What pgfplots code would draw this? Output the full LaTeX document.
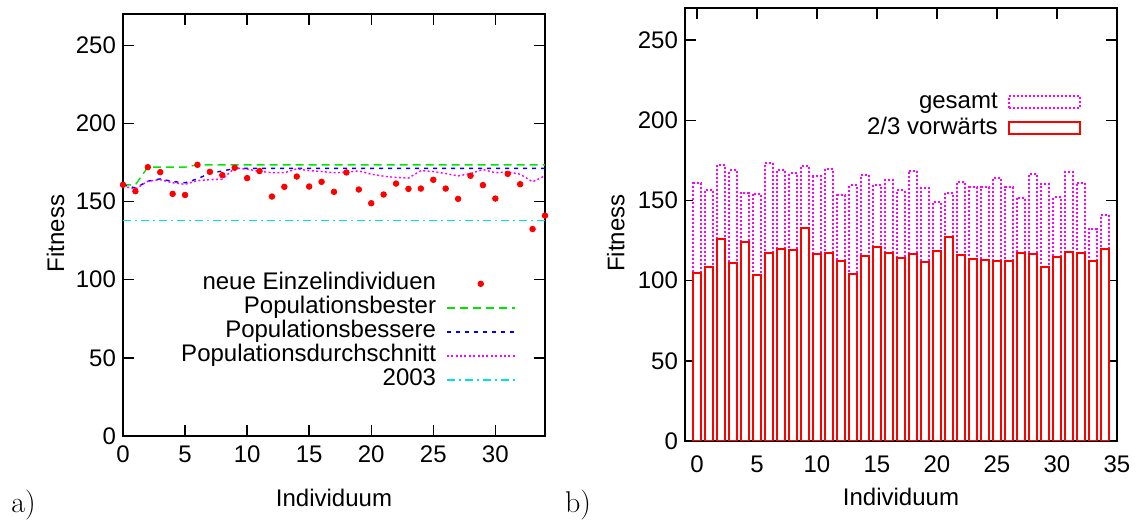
\documentclass[border=0pt]{standalone}
\usepackage{fontspec}
\newfontfamily\arial{Liberation Sans}
\usepackage{pgfplots}
\pgfplotsset{compat=1.18}
\definecolor{gpred}{RGB}{255,0,0}
\definecolor{gpgreen}{RGB}{0,230,0}
\definecolor{gpblue}{RGB}{0,0,255}
\definecolor{gpmag}{RGB}{255,0,255}
\definecolor{gpcyan}{RGB}{0,225,225}

% dots = neue Einzelindividuen / gesamt
\pgfplotstableread{
x  neu    best   besser  mittel  vorw
0  160.7  160.7  160.7   160.0   105.0
1  156.6  160.7  158.7   158.0   108.5
2  172.0  172.0  163.0   163.0   125.7
3  168.8  172.0  164.5   164.0   111.0
4  154.9  172.0  162.8   162.0   123.8
5  154.2  172.0  162.0   161.0   103.4
6  173.5  173.5  164.5   163.4   117.5
7  169.0  173.5  168.2   164.0   120.0
8  166.9  173.5  169.5   164.3   119.4
9  171.6  173.5  171.2   171.5   133.0
10 165.0  173.5  171.2   170.7   116.8
11 169.5  173.5  171.2   169.4   117.5
12 153.2  173.5  171.2   168.4   112.3
13 159.4  173.5  171.2   168.4   104.4
14 166.0  173.5  171.2   170.9   115.6
15 159.6  173.5  171.2   169.8   121.0
16 162.6  173.5  171.2   169.2   117.2
17 156.2  173.5  171.2   168.4   113.8
18 168.6  173.5  171.2   168.8   116.6
19 157.7  173.5  171.2   169.6   111.9
20 148.9  173.5  171.2   167.5   118.5
21 154.5  173.5  171.2   166.2   127.2
22 161.5  173.5  171.2   165.4   116.2
23 158.1  173.5  171.2   165.0   113.4
24 158.3  173.5  171.2   169.8   112.7
25 163.9  173.5  171.2   169.2   112.1
26 158.3  173.5  171.2   167.9   112.3
27 151.7  173.5  171.2   166.4   117.5
28 166.5  173.5  171.2   167.9   116.8
29 160.5  173.5  171.2   170.5   108.8
30 151.9  173.5  171.2   168.4   114.5
31 167.7  173.5  171.2   169.0   118.1
32 161.1  173.5  171.2   167.5   117.5
33 132.4  173.5  171.2   162.6   112.3
34 141.0  173.5  171.2   166.5   120.0
}\fit

\pgfplotsset{
  gp/.style={
    scale only axis,
    axis line style={line width=0.7pt},
    tick align=inside, major tick length=5.5pt,
    tick style={line width=0.7pt, black},
    font=\arial\fontsize{12}{12}\selectfont,
    /pgf/number format/assume math mode=true,
    ymin=0, ymax=270, ytick={0,50,...,250},
    ylabel=Fitness, xlabel=Individuum,
    ylabel style={at={(axis description cs:-0.16,0.48)}, anchor=center},
    legend plot pos=right, legend cell align=right,
    legend style={draw=none, fill=none, inner sep=0pt, column sep=4.5pt,
      nodes={inner sep=0.5pt, text height=8.5pt, text depth=2.5pt}},
  },
  linelegend/.style={legend image code/.code={\draw[##1] (0pt,0pt) -- (34pt,0pt);}},
  dotlegend/.style={legend image code/.code={\draw[##1] plot coordinates {(17pt,0pt)};}},
  barlegend/.style={legend image code/.code={\draw[##1] (0pt,-3pt) rectangle (35.5pt,3pt);}},
}

\begin{document}
\begin{tikzpicture}
\useasboundingbox (0,0) rectangle (571pt,261pt);

\begin{axis}[gp, at={(61.5pt,43pt)}, anchor=south west,
  width=211pt, height=211pt,
  xmin=0, xmax=34, xtick={0,5,...,30},
  xticklabel style={yshift=-1.5pt},
  xlabel style={at={(axis description cs:0.5,0)}, anchor=center, yshift=-31pt},
  legend style={at={(rel axis cs:0.931,0.390)}, anchor=north east},
]
\addplot[only marks, mark=*, mark size=1.4pt, color=gpred, dotlegend]
  table[x=x, y=neu] {\fit};
\addlegendentry{neue Einzelindividuen}
\addplot[linelegend, line width=0.7pt, color=gpgreen,
  dash pattern=on 4pt off 2.5pt] table[x=x, y=best] {\fit};
\addlegendentry{Populationsbester}
\addplot[linelegend, line width=0.7pt, color=gpblue, dash pattern=on 2pt off 2.5pt]
  table[x=x, y=besser] {\fit};
\addlegendentry{Populationsbessere}
\addplot[linelegend, line width=0.7pt, color=gpmag, dash pattern=on 1pt off 1.2pt]
  table[x=x, y=mittel] {\fit};
\addlegendentry{Populationsdurchschnitt}
\addplot[linelegend, line width=0.7pt, color=gpcyan, dash pattern=on 4pt off 2pt on 1pt off 2pt]
  coordinates {(0,138) (34,138)};
\addlegendentry{2003}
\end{axis}

% x unit = 6pt, bar edges on whole pixels, 2px strokes
\begin{axis}[gp, at={(342.5pt,40.5pt)}, anchor=south west,
  width=216pt, height=216.5pt,
  xmin=-1, xmax=35, xtick={0,5,...,35},
  xticklabel style={yshift=-4pt},
  xlabel style={at={(axis description cs:0.5,0)}, anchor=center, yshift=-28pt},
  legend style={at={(rel axis cs:0.917,0.811)}, anchor=north east, row sep=1pt},
]
\addplot[barlegend, ybar, bar width=4pt, bar shift=0pt, fill=white, draw=gpmag,
  line width=1pt, dash pattern=on 1pt off 1pt] table[x=x, y=neu] {\fit};
\addlegendentry{gesamt}
\addplot[barlegend, ybar, bar width=4pt, bar shift=0pt, fill=none, draw=gpred,
  line width=1pt] table[x=x, y=vorw] {\fit};
\addlegendentry{2/3 vorwärts}
\end{axis}

\node[font=\fontsize{15}{15}\selectfont] at (11.75pt,8.25pt) {a)};
\node[font=\fontsize{15}{15}\selectfont] at (289pt,8.25pt) {b)};
\end{tikzpicture}
\end{document}
